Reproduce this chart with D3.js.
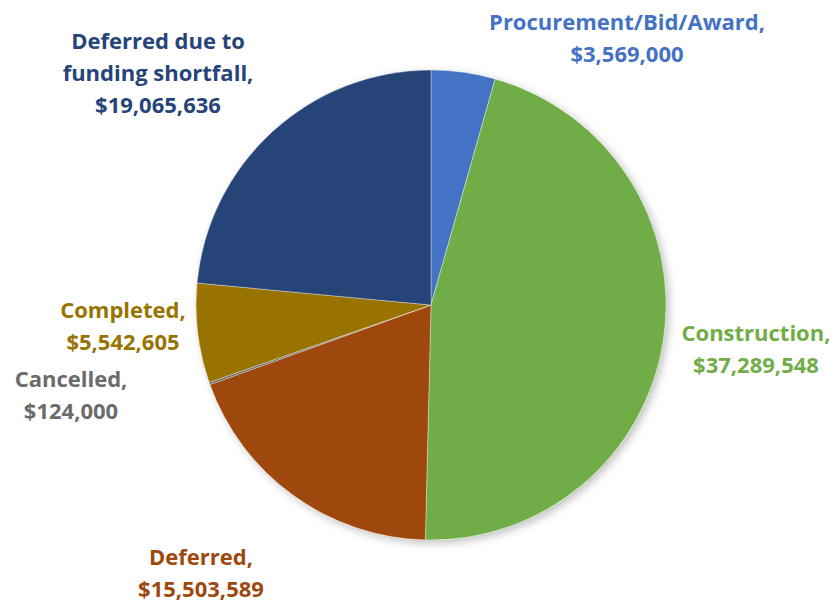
<!DOCTYPE html>
<html>
<head>
<meta charset="utf-8">
<script src="https://cdn.jsdelivr.net/npm/d3@7"></script>
<style>
  body { margin: 0; background: #fff; }
  svg { display: block; }
  text { font-family: "Open Sans", "Noto Sans", sans-serif; font-weight: 700; }
</style>
</head>
<body>
<div id="chart"></div>
<script>
// slice order, clockwise from 12 o'clock
const categories = [
    'Procurement/Bid/Award',
    'Construction',
    'Deferred',
    'Cancelled',
    'Completed',
    'Deferred due to funding shortfall'
];
const values = [3569000, 37289548, 15503589, 124000, 5542605, 19065636];
const colors = ['#4472C4', '#70AD47', '#9E480E', '#636363', '#997300', '#264478'];
const labelColors = ['#4472C4', '#70AD47', '#9E480E', '#6b6b6b', '#997300', '#264478'];

// label lines and where Excel put them (centre x, first baseline y)
const labelLines = [
    ['Procurement/Bid/Award,', '$3,569,000'],
    ['Construction,', '$37,289,548'],
    ['Deferred,', '$15,503,589'],
    ['Cancelled,', '$124,000'],
    ['Completed,', '$5,542,605'],
    ['Deferred due to', 'funding shortfall,', '$19,065,636']
];
const labelPos = [[627, 30], [756, 341], [201, 565], [71, 387], [123, 318], [158, 49]];

const W = 833, H = 602;
const cx = 431, cy = 305, R = 235;
const lineH = 32;

const svg = d3.select('#chart').append('svg')
    .attr('width', W)
    .attr('height', H);

const defs = svg.append('defs');
const f = defs.append('filter').attr('id', 'shadow')
    .attr('x', '-10%').attr('y', '-10%').attr('width', '125%').attr('height', '125%');
f.append('feDropShadow')
    .attr('dx', 3).attr('dy', 3).attr('stdDeviation', 4)
    .attr('flood-color', '#000').attr('flood-opacity', 0.25);

const pie = d3.pie().sort(null).value(d => d);
const arc = d3.arc().innerRadius(0).outerRadius(R);

const g = svg.append('g')
    .attr('transform', 'translate(' + cx + ',' + cy + ')');

g.append('circle').attr('r', R).attr('fill', '#fff').attr('filter', 'url(#shadow)');

g.selectAll('path')
    .data(pie(values))
    .enter().append('path')
    .attr('d', arc)
    .attr('fill', (d, i) => colors[i])
    .attr('stroke', '#ffffff')
    .attr('stroke-opacity', 0.35)
    .attr('stroke-width', 1);

const labels = svg.selectAll('text.lbl')
    .data(categories)
    .enter().append('text')
    .attr('class', 'lbl')
    .attr('text-anchor', 'middle')
    .attr('font-size', 22)
    .attr('fill', (d, i) => labelColors[i]);

labels.each(function (d, i) {
    const t = d3.select(this);
    labelLines[i].forEach((line, k) => {
        t.append('tspan')
            .attr('x', labelPos[i][0])
            .attr('y', labelPos[i][1] + k * lineH)
            .text(line);
    });
});
</script>
</body>
</html>
